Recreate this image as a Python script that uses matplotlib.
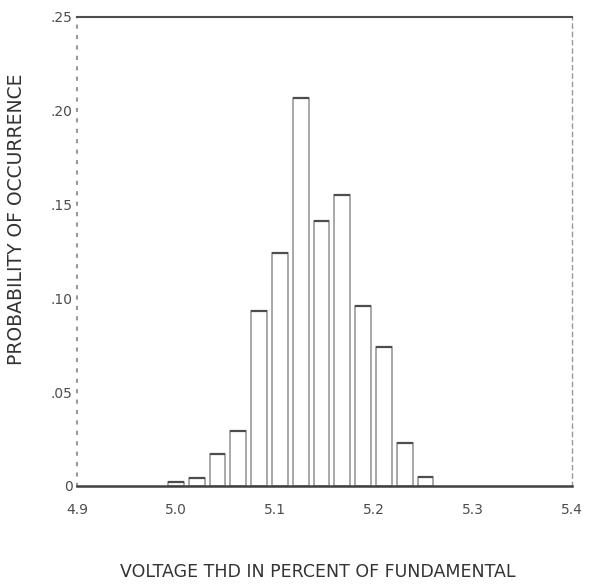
import matplotlib.pyplot as plt

# bin centres (percent THD) and probability of each bin
thd_bins = [5.000, 5.021, 5.042, 5.063, 5.084, 5.105, 5.126,
            5.147, 5.168, 5.189, 5.210, 5.231, 5.252]
probability = [0.002, 0.004, 0.017, 0.029, 0.093, 0.124, 0.207,
               0.141, 0.155, 0.096, 0.074, 0.023, 0.005]

x_ticks = [4.9, 5.0, 5.1, 5.2, 5.3, 5.4]
x_ticklabels = ['4.9', '5.0', '5.1', '5.2', '5.3', '5.4']
y_ticks = [0, 0.05, 0.10, 0.15, 0.20, 0.25]
y_ticklabels = ['0', '.05', '.10', '.15', '.20', '.25']

plt.rcParams['font.family'] = ['DejaVu Sans']

fig = plt.figure(figsize=(5.96, 5.84), dpi=100)
ax = fig.add_axes([0.129, 0.168, 0.831, 0.803])

# open bars with grey sides and a darker top edge
ax.bar(thd_bins, probability, width=0.016, fill=False,
       edgecolor='0.6', linewidth=1.2)
ax.hlines(probability, [x - 0.008 for x in thd_bins],
          [x + 0.008 for x in thd_bins], color='0.3', linewidth=1.6)

ax.set_xlim(4.9, 5.4)
ax.set_ylim(0, 0.25)
ax.set_xticks(x_ticks)
ax.set_xticklabels(x_ticklabels)
ax.set_yticks(y_ticks)
ax.set_yticklabels(y_ticklabels)
ax.tick_params(axis='both', length=0, labelsize=10, colors='0.3')
ax.tick_params(axis='x', pad=12)
ax.tick_params(axis='y', pad=3)

# frame: solid top/bottom, dotted grey left, dashed grey right
ax.spines['top'].set_color('0.3')
ax.spines['top'].set_linewidth(1.5)
ax.spines['bottom'].set_color('0.25')
ax.spines['bottom'].set_linewidth(1.8)
ax.spines['left'].set_color('0.6')
ax.spines['left'].set_linestyle((0, (1, 4)))
ax.spines['left'].set_linewidth(1.5)
ax.spines['right'].set_color('0.6')
ax.spines['right'].set_linestyle((0, (3, 3)))
ax.spines['right'].set_linewidth(1.0)

fig.text(0.027, 0.625, 'PROBABILITY OF OCCURRENCE', rotation=90,
         ha='center', va='center', fontsize=13.5, color='0.2')
fig.text(0.533, 0.02, 'VOLTAGE THD IN PERCENT OF FUNDAMENTAL',
         ha='center', va='center', fontsize=12.5, color='0.2')

plt.savefig('out.png', dpi=100)
